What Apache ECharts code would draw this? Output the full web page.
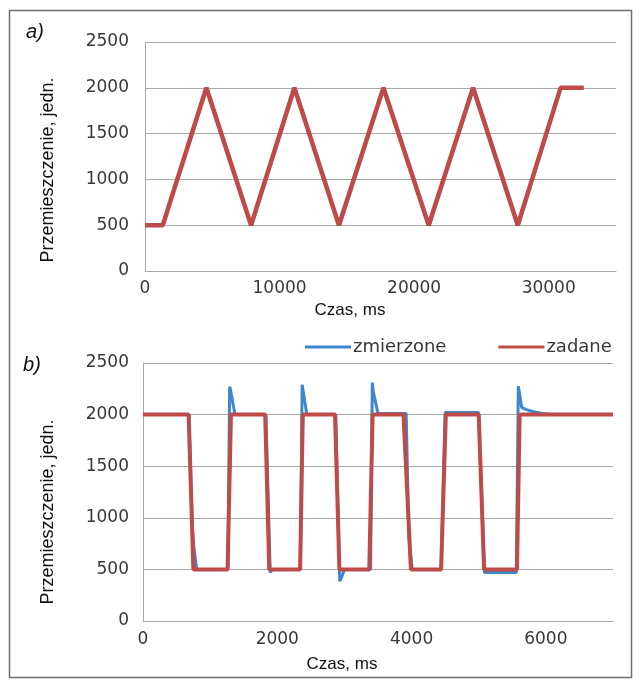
<!DOCTYPE html>
<html>
<head>
<meta charset="utf-8">
<script src="https://cdn.jsdelivr.net/npm/echarts@6/dist/echarts.min.js"></script>
<style>
html,body{margin:0;padding:0;background:#fff;}
#c{width:640px;height:683px;}
</style>
</head>
<body>
<div id="c"></div>
<script>
// ---- Data: chart a) (time in ms, displacement in units)
var aTime    = [0, 1320, 4560, 7880, 11100, 14410, 17720, 21080, 24380, 27700, 30880, 32600];
var aZadane  = [500, 500, 2000, 500, 2000, 500, 2000, 500, 2000, 500, 2000, 2000];
var aMeasTime = [0, 1330, 4570, 7920, 11110, 14450, 17730, 21120, 24390, 27740, 30890, 32600];
var aMeasured = [500, 500, 2000, 495, 2000, 495, 2000, 495, 2000, 495, 2000, 2000];

// ---- Data: chart b)
var bZadTime = [0, 680, 750, 1260, 1310, 1820, 1880, 2340, 2380, 2860, 2925, 3370, 3420, 3880, 3990, 4440, 4510, 5000, 5080, 5570, 5610, 7000];
var bZadane  = [2000, 2000, 500, 500, 2000, 2000, 500, 500, 2000, 2000, 500, 500, 2000, 2000, 500, 500, 2000, 2000, 500, 500, 2000, 2000];
var bMeasTime = [0, 685, 735, 760, 800, 1265, 1290, 1300, 1370, 1830, 1895, 1925, 2345, 2370, 2385, 2440, 2870, 2930, 2960, 3000, 3390, 3415, 3430, 3500, 3920, 3960, 4010, 4440, 4500, 5000, 5085, 5560, 5590, 5640, 5700, 5800, 5950, 6100, 7000];
var bMeasured = [2000, 2000, 900, 700, 500, 500, 2270, 2250, 2000, 2000, 470, 500, 500, 2290, 2230, 2000, 2000, 385, 430, 500, 500, 2310, 2220, 2010, 2010, 800, 500, 500, 2020, 2020, 470, 470, 2275, 2070, 2050, 2030, 2010, 2000, 2000];

// ---- Axis ticks
var aXTicks = [0, 10000, 20000, 30000];
var bXTicks = [0, 2000, 4000, 6000];
var yTicks  = [0, 500, 1000, 1500, 2000, 2500];

var seriesNames = ['zmierzone', 'zadane'];
var axisTitleX = 'Czas, ms';
var axisTitleY = 'Przemieszczenie, jedn.';
var panelLabels = ['a)', 'b)'];

function zip(xs, ys){ return xs.map(function(x,i){ return [x, ys[i]]; }); }

var BLUE = '#3d88cc', RED = '#bf4b48', GRID = '#a8a8a8', LABEL = '#383838';
var tickFont = {color: LABEL, fontSize: 17, fontFamily: 'DejaVu Sans'};

function xAxisCfg(grid, max, interval, margin, ticks){
  return {
    type: 'value', gridIndex: grid, min: 0, max: max, interval: interval,
    axisLine: {show: true, lineStyle: {color: GRID, width: 1}},
    axisTick: {show: false},
    splitLine: {show: false},
    axisLabel: Object.assign({margin: margin, showMaxLabel: false,
      formatter: function(v){ return ticks.indexOf(v) >= 0 ? String(v) : ''; }}, tickFont)
  };
}
function yAxisCfg(grid, margin){
  return {
    type: 'value', gridIndex: grid, min: yTicks[0], max: yTicks[yTicks.length-1], interval: 500,
    axisLine: {show: true, lineStyle: {color: GRID, width: 1}},
    axisTick: {show: false},
    splitLine: {show: true, lineStyle: {color: GRID, width: 1}},
    axisLabel: Object.assign({margin: margin, formatter: function(v){ return String(v); }}, tickFont)
  };
}

var chart = echarts.init(document.getElementById('c'), null, {renderer: 'canvas'});
var option = {
  animation: false,
  backgroundColor: '#ffffff',
  grid: [
    {left: 145, right: 24, top: 42, bottom: 412},
    {left: 143, right: 27, top: 363, bottom: 62}
  ],
  legend: {
    data: seriesNames,
    left: 300, top: 333,
    icon: 'rect', itemWidth: 46, itemHeight: 3, itemGap: 52,
    textStyle: {color: LABEL, fontSize: 18, fontFamily: 'DejaVu Sans', padding: [0,0,0,-3]},
    selectedMode: false
  },
  xAxis: [ xAxisCfg(0, 35000, 5000, 9, aXTicks), xAxisCfg(1, 7000, 1000, 10, bXTicks) ],
  yAxis: [ yAxisCfg(0, 16), yAxisCfg(1, 14) ],
  series: [
    {name: seriesNames[0], type: 'line', xAxisIndex: 0, yAxisIndex: 0, data: zip(aMeasTime, aMeasured),
     showSymbol: false, symbol: 'none', lineStyle: {color: BLUE, width: 3}, itemStyle: {color: BLUE}, z: 2},
    {name: seriesNames[1], type: 'line', xAxisIndex: 0, yAxisIndex: 0, data: zip(aTime, aZadane),
     showSymbol: false, symbol: 'none', lineStyle: {color: RED, width: 4.5}, itemStyle: {color: RED}, z: 3},
    {name: seriesNames[0], type: 'line', xAxisIndex: 1, yAxisIndex: 1, data: zip(bMeasTime, bMeasured),
     showSymbol: false, symbol: 'none', lineStyle: {color: BLUE, width: 3}, itemStyle: {color: BLUE}, z: 2},
    {name: seriesNames[1], type: 'line', xAxisIndex: 1, yAxisIndex: 1, data: zip(bZadTime, bZadane),
     showSymbol: false, symbol: 'none', lineStyle: {color: RED, width: 4}, itemStyle: {color: RED}, z: 3}
  ],
  graphic: [
    {type: 'rect', shape: {x: 9.5, y: 10.5, width: 622, height: 667}, style: {fill: 'none', stroke: '#707070', lineWidth: 1.5}, silent: true, z: 0},
    {type: 'text', x: 35, y: 32, style: {text: panelLabels[0], fill: '#111', font: 'italic 20px "Liberation Sans"', align: 'center', verticalAlign: 'middle'}},
    {type: 'text', x: 32, y: 365, style: {text: panelLabels[1], fill: '#111', font: 'italic 20px "Liberation Sans"', align: 'center', verticalAlign: 'middle'}},
    {type: 'text', x: 350, y: 310, style: {text: axisTitleX, fill: '#111', font: '17px "Liberation Sans"', align: 'center', verticalAlign: 'middle'}},
    {type: 'text', x: 342, y: 664, style: {text: axisTitleX, fill: '#111', font: '17px "Liberation Sans"', align: 'center', verticalAlign: 'middle'}},
    {type: 'text', x: 48, y: 170, rotation: Math.PI/2, style: {text: axisTitleY, fill: '#111', font: '18px "Liberation Sans"', align: 'center', verticalAlign: 'middle'}},
    {type: 'text', x: 48, y: 512, rotation: Math.PI/2, style: {text: axisTitleY, fill: '#111', font: '18px "Liberation Sans"', align: 'center', verticalAlign: 'middle'}}
  ]
};
chart.setOption(option);
</script>
</body>
</html>
